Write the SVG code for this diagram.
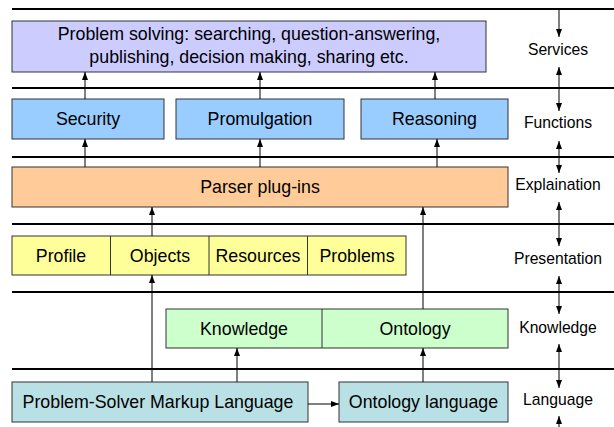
<svg xmlns="http://www.w3.org/2000/svg" width="614" height="427" viewBox="0 0 614 427">
<style>
.bx{stroke:#333;stroke-width:1}
.t{font-family:"Liberation Sans",Arial,sans-serif;font-size:17.8px;fill:#000;text-anchor:middle}
.l{font-family:"Liberation Sans",Arial,sans-serif;font-size:15.7px;fill:#000;text-anchor:middle}
.layer{stroke:#000;stroke-width:2}
.c{stroke:#000;stroke-width:1;fill:none;marker-end:url(#ah)}
.d{stroke:#000;stroke-width:1;fill:none;marker-end:url(#ah);marker-start:url(#ah)}
</style>
<defs>
<marker id="ah" viewBox="0 0 8 6" refX="8" refY="3" markerWidth="8" markerHeight="6" markerUnits="userSpaceOnUse" orient="auto-start-reverse">
<path d="M0,0 L8,3 L0,6 z" fill="#000"/>
</marker>
</defs>
<rect width="614" height="427" fill="#fff"/>
<g id="layers">
<line class="layer" x1="12" y1="9" x2="614" y2="9"/>
<line class="layer" x1="12" y1="88" x2="614" y2="88"/>
<line class="layer" x1="12" y1="157" x2="614" y2="157"/>
<line class="layer" x1="12" y1="224" x2="614" y2="224"/>
<line class="layer" x1="12" y1="292" x2="614" y2="292"/>
<line class="layer" x1="12" y1="369" x2="614" y2="369"/>
</g>
<g id="problem-solving">
<rect class="bx" x="12" y="21" width="474" height="51" fill="#ccccff"/>
<text class="t" x="249" y="40">Problem solving: searching, question-answering,</text>
<text class="t" x="249" y="63">publishing, decision making, sharing etc.</text>
</g>
<g id="security">
<rect class="bx" x="12" y="99" width="152" height="40" fill="#99ccff"/>
<text class="t" x="88" y="125">Security</text>
</g>
<g id="promulgation">
<rect class="bx" x="176" y="99" width="168" height="40" fill="#99ccff"/>
<text class="t" x="260" y="125">Promulgation</text>
</g>
<g id="reasoning">
<rect class="bx" x="361" y="99" width="147" height="40" fill="#99ccff"/>
<text class="t" x="434.5" y="125">Reasoning</text>
</g>
<g id="parser">
<rect class="bx" x="12" y="167" width="496" height="40" fill="#ffcc99"/>
<text class="t" x="260" y="193">Parser plug-ins</text>
</g>
<g id="presentation-row">
<rect class="bx" x="12" y="236" width="394" height="39" fill="#ffff99"/>
<line class="bx" x1="110.5" y1="236" x2="110.5" y2="275"/>
<line class="bx" x1="209" y1="236" x2="209" y2="275"/>
<line class="bx" x1="307.5" y1="236" x2="307.5" y2="275"/>
<text class="t" x="61" y="262">Profile</text>
<text class="t" x="160" y="262">Objects</text>
<text class="t" x="258" y="262">Resources</text>
<text class="t" x="357" y="262">Problems</text>
</g>
<g id="knowledge-row">
<rect class="bx" x="166" y="309" width="342" height="39" fill="#ccffcc"/>
<line class="bx" x1="322" y1="309" x2="322" y2="348"/>
<text class="t" x="244" y="335">Knowledge</text>
<text class="t" x="415" y="335">Ontology</text>
</g>
<g id="psml">
<rect class="bx" x="12" y="382" width="296" height="40" fill="#b9e0e4"/>
<text class="t" x="158" y="408">Problem-Solver Markup Language</text>
</g>
<g id="ontology-language">
<rect class="bx" x="339" y="382" width="169" height="40" fill="#b9e0e4"/>
<text class="t" x="423.5" y="408">Ontology language</text>
</g>
<g id="labels">
<text class="l" x="558" y="55">Services</text>
<text class="l" x="558" y="128">Functions</text>
<text class="l" x="558" y="190">Explaination</text>
<text class="l" x="558" y="264">Presentation</text>
<text class="l" x="558" y="333">Knowledge</text>
<text class="l" x="558" y="405">Language</text>
</g>
<g id="connectors">
<line class="c" x1="85" y1="99" x2="85" y2="72"/>
<line class="c" x1="260" y1="99" x2="260" y2="72"/>
<line class="c" x1="435" y1="99" x2="435" y2="72"/>
<line class="c" x1="85" y1="167" x2="85" y2="139"/>
<line class="c" x1="260" y1="167" x2="260" y2="139"/>
<line class="c" x1="437" y1="167" x2="437" y2="139"/>
<line class="c" x1="152" y1="236" x2="152" y2="207"/>
<line class="c" x1="152" y1="382" x2="152" y2="275"/>
<line class="c" x1="423" y1="309" x2="423" y2="207"/>
<line class="c" x1="237" y1="382" x2="237" y2="348"/>
<line class="c" x1="423" y1="382" x2="423" y2="348"/>
<line class="c" x1="308" y1="404" x2="339" y2="404"/>
<line class="c" x1="559" y1="9" x2="559" y2="37"/>
<line class="d" x1="559" y1="67" x2="559" y2="111"/>
<line class="d" x1="559" y1="141" x2="559" y2="173"/>
<line class="d" x1="559" y1="202" x2="559" y2="246"/>
<line class="d" x1="559" y1="276" x2="559" y2="314"/>
<line class="d" x1="559" y1="344" x2="559" y2="388"/>
<line class="c" x1="559" y1="427" x2="559" y2="416"/>
</g>
</svg>
